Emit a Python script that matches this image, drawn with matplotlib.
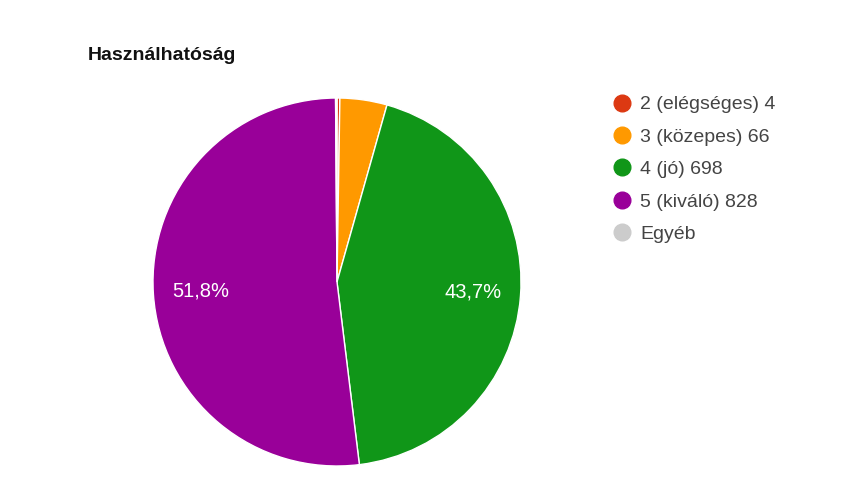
import matplotlib.pyplot as plt
from matplotlib.lines import Line2D

plt.rcParams['font.family'] = ['Liberation Sans', 'DejaVu Sans']

labels = ['2 (elégséges) 4', '3 (közepes) 66', '4 (jó) 698', '5 (kiváló) 828', 'Egyéb']
values = [4, 66, 698, 828, 2]
colors = ['#dc3912', '#ff9900', '#109618', '#990099', '#cccccc']


def pct_label(p):
    # only the big slices get a label, with a decimal comma
    if p < 5:
        return ''
    return f'{p:.1f}%'.replace('.', ',')


fig = plt.figure(figsize=(8.59, 4.96), dpi=100)
ax = fig.add_axes([153 / 859, 30 / 496, 368 / 859, 368 / 496])

wedges, texts, autotexts = ax.pie(values, colors=colors, startangle=90, counterclock=False,
                                  autopct=pct_label, pctdistance=0.74,
                                  wedgeprops=dict(edgecolor='white', linewidth=1),
                                  textprops=dict(color='white', fontsize=14.5))
ax.set_xlim(-1.0, 1.0)
ax.set_ylim(-1.0, 1.0)
ax.set_aspect('equal')

fig.text(88 / 859, 1 - 56 / 496, 'Használhatóság', fontsize=14, fontweight='bold',
         color='#111111', va='center', ha='left')

handles = [Line2D([0], [0], marker='o', linestyle='', markersize=12,
                  markerfacecolor=c, markeredgecolor=c) for c in colors]
fig.legend(handles, labels, loc='upper left', bbox_to_anchor=(604 / 859, 1 - 88 / 496),
           frameon=False, fontsize=14, labelspacing=0.76, handletextpad=0.45,
           handlelength=1.0, labelcolor='#444444', borderaxespad=0)

fig.savefig('out.png', dpi=100)
